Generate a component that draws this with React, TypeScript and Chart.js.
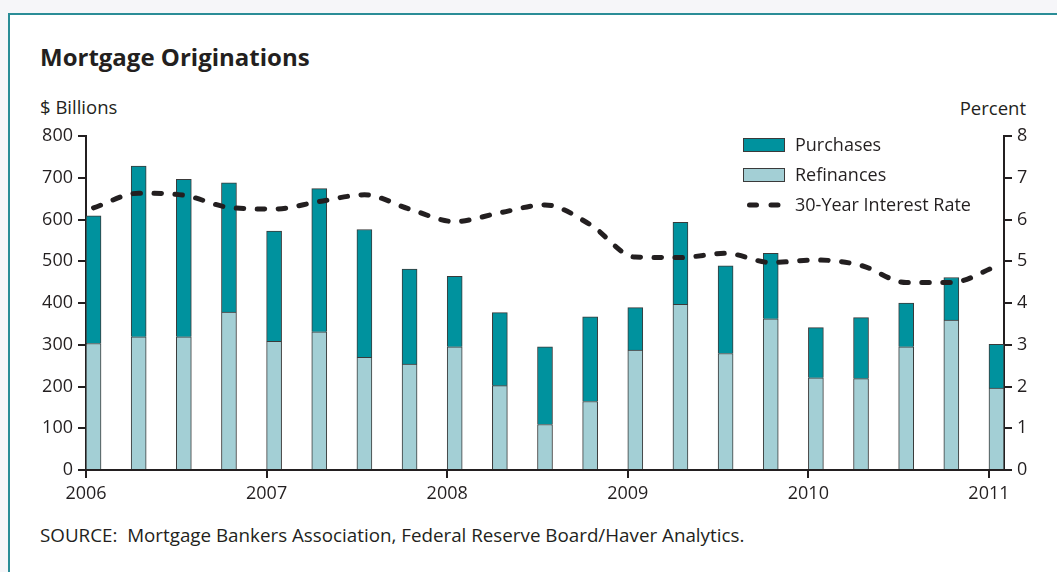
import React, { useEffect, useRef } from 'react';
import { Chart, registerables } from 'chart.js';

Chart.register(...registerables);

// Quarterly observations (first month of each quarter)
const quarters = [
  '2006-01', '2006-04', '2006-07', '2006-10',
  '2007-01', '2007-04', '2007-07', '2007-10',
  '2008-01', '2008-04', '2008-07', '2008-10',
  '2009-01', '2009-04', '2009-07', '2009-10',
  '2010-01', '2010-04', '2010-07', '2010-10',
  '2011-01',
];
// $ Billions
const refinances = [303, 319, 319, 378, 308, 331, 270, 254, 295, 202, 109, 164, 287, 397, 279, 362, 221, 219, 295, 359, 196];
const purchases = [306, 409, 377, 310, 264, 343, 306, 227, 169, 175, 186, 203, 102, 196, 210, 157, 120, 146, 105, 102, 105];
// Percent
const interestRate = [6.28, 6.63, 6.58, 6.29, 6.25, 6.43, 6.59, 6.25, 5.95, 6.16, 6.35, 5.88, 5.10, 5.09, 5.19, 4.97, 5.03, 4.90, 4.49, 4.49, 4.88];
const yearTicks = [2006, 2007, 2008, 2009, 2010, 2011];
const axisStart = '2006-01';
const axisEnd = '2011-01'; // axis ends at end of this month
const billionsMax = 800;
const billionsStep = 100;
const percentMax = 8;
const percentStep = 1;

const seriesNames = { purchases: 'Purchases', refinances: 'Refinances', rate: '30-Year Interest Rate' };

const TEAL = '#00929e';
const LIGHT = '#a3cfd5';
const INK = '#231f20';
const FONT = "'Open Sans', sans-serif";

// decimal year at the middle of the given month
const monthMid = (q: string) => {
  const [y, m] = q.split('-').map(Number);
  return y + (m - 0.5) / 12;
};
const monthStart = (q: string) => {
  const [y, m] = q.split('-').map(Number);
  return y + (m - 1) / 12;
};

const legendPlugin = {
  id: 'insideLegend',
  afterDraw(chart: any) {
    const { ctx, chartArea } = chart;
    const boxL = chartArea.right - 261;
    const textX = boxL + 52;
    const rows = [chartArea.top + 9, chartArea.top + 39, chartArea.top + 69];
    ctx.save();
    ctx.font = `18px ${FONT}`;
    ctx.textBaseline = 'middle';
    ctx.strokeStyle = '#3a3a3a';
    ctx.lineWidth = 1;
    // Purchases
    ctx.fillStyle = TEAL;
    ctx.fillRect(boxL, rows[0] - 7, 42, 14);
    ctx.strokeRect(boxL + 0.5, rows[0] - 6.5, 41, 13);
    // Refinances
    ctx.fillStyle = LIGHT;
    ctx.fillRect(boxL, rows[1] - 7, 42, 14);
    ctx.strokeRect(boxL + 0.5, rows[1] - 6.5, 41, 13);
    // Rate
    ctx.strokeStyle = INK;
    ctx.lineWidth = 5;
    ctx.lineCap = 'round';
    ctx.beginPath();
    ctx.moveTo(boxL + 6.5, rows[2]);
    ctx.lineTo(boxL + 13.5, rows[2]);
    ctx.moveTo(boxL + 28, rows[2]);
    ctx.lineTo(boxL + 35, rows[2]);
    ctx.stroke();
    ctx.fillStyle = INK;
    ctx.fillText(seriesNames.purchases, textX, rows[0] + 1);
    ctx.fillText(seriesNames.refinances, textX, rows[1] + 1);
    ctx.fillText(seriesNames.rate, textX, rows[2] + 1);
    ctx.restore();
  },
};

export default function App() {
  const canvasRef = useRef<HTMLCanvasElement | null>(null);

  useEffect(() => {
    if (!canvasRef.current) return;
    const xs = quarters.map(monthMid);
    const grid = {
      drawOnChartArea: false,
      drawTicks: true,
      tickLength: 8,
      lineWidth: 2,
      color: INK,
      offset: false,
    };
    const border = { display: true, width: 2, color: INK };
    const tickFont = { family: FONT, size: 18 };
    const chart = new Chart(canvasRef.current, {
      type: 'bar',
      data: {
        datasets: [
          {
            type: 'line',
            label: seriesNames.rate,
            data: xs.map((x, i) => ({ x, y: interestRate[i] })),
            yAxisID: 'y2',
            xAxisID: 'x',
            borderColor: INK,
            borderWidth: 5,
            borderDash: [7.5, 13.5],
            borderCapStyle: 'round',
            pointRadius: 0,
            fill: false,
            cubicInterpolationMode: 'monotone',
            order: 0,
          } as any,
          {
            type: 'bar',
            label: seriesNames.refinances,
            data: xs.map((x, i) => ({ x, y: refinances[i] })),
            yAxisID: 'y',
            xAxisID: 'x',
            stack: 'orig',
            backgroundColor: LIGHT,
            borderColor: '#3a3a3a',
            borderWidth: 1,
            barThickness: 15,
            order: 1,
          },
          {
            type: 'bar',
            label: seriesNames.purchases,
            data: xs.map((x, i) => ({ x, y: purchases[i] })),
            yAxisID: 'y',
            xAxisID: 'x',
            stack: 'orig',
            backgroundColor: TEAL,
            borderColor: '#3a3a3a',
            borderWidth: 1,
            barThickness: 15,
            order: 1,
          },
        ],
      },
      options: {
        responsive: false,
        animation: false,
        events: [],
        layout: { padding: { top: 136, left: 0, right: 0, bottom: 0 } },
        plugins: {
          legend: { display: false },
          tooltip: { enabled: false },
          title: { display: false },
        },
        scales: {
          x: {
            type: 'linear',
            min: monthStart(axisStart),
            max: monthStart(axisEnd) + 1 / 12,
            stacked: true,
            offset: false,
            grid,
            border,
            ticks: {
              font: tickFont,
              color: INK,
              padding: 5,
              autoSkip: false,
              maxRotation: 0,
              callback: (v: any) => String(v),
            },
            afterBuildTicks: (s: any) => {
              s.ticks = yearTicks.map((v) => ({ value: v }));
            },
            afterFit: (s: any) => {
              s.height = 102;
            },
          },
          y: {
            type: 'linear',
            position: 'left',
            min: 0,
            max: billionsMax,
            stacked: true,
            grid,
            border,
            ticks: { stepSize: billionsStep, font: tickFont, color: INK, padding: 5 },
            afterFit: (s: any) => {
              s.width = 86;
            },
          },
          y2: {
            type: 'linear',
            position: 'right',
            min: 0,
            max: percentMax,
            stacked: false,
            grid,
            border,
            ticks: { stepSize: percentStep, font: tickFont, color: INK, padding: 5 },
            afterFit: (s: any) => {
              s.width = 53;
            },
          },
        },
      } as any,
      plugins: [legendPlugin],
    });
    return () => chart.destroy();
  }, []);

  const text = { position: 'absolute' as const, fontFamily: FONT, color: INK, whiteSpace: 'pre' as const, lineHeight: 'normal' };

  return (
    <div style={{ position: 'fixed', left: 0, top: 0, width: 1057, height: 572, background: '#f6f6f9', overflow: 'hidden' }}>
      <div
        style={{
          position: 'absolute',
          left: 8,
          top: 13,
          width: 1049,
          height: 559,
          boxSizing: 'border-box',
          background: '#fff',
          borderTop: '2px solid #2a8d97',
          borderLeft: '2px solid #2a8d97',
        }}
      />
      <div style={{ ...text, left: 40, top: 40.3, fontSize: 24, fontWeight: 700 }}>Mortgage Originations</div>
      <div style={{ ...text, left: 40, top: 93.7, fontSize: 18.5 }}>$ Billions</div>
      <div style={{ ...text, right: 31, top: 94.7, fontSize: 18.5 }}>Percent</div>
      <div style={{ ...text, left: 40, top: 521.6, fontSize: 18.8 }}>
        {'SOURCE:  Mortgage Bankers Association, Federal Reserve Board/Haver Analytics.'}
      </div>
      <canvas ref={canvasRef} width={1057} height={572} style={{ position: 'absolute', left: 0, top: 0, width: 1057, height: 572 }} />
    </div>
  );
}
